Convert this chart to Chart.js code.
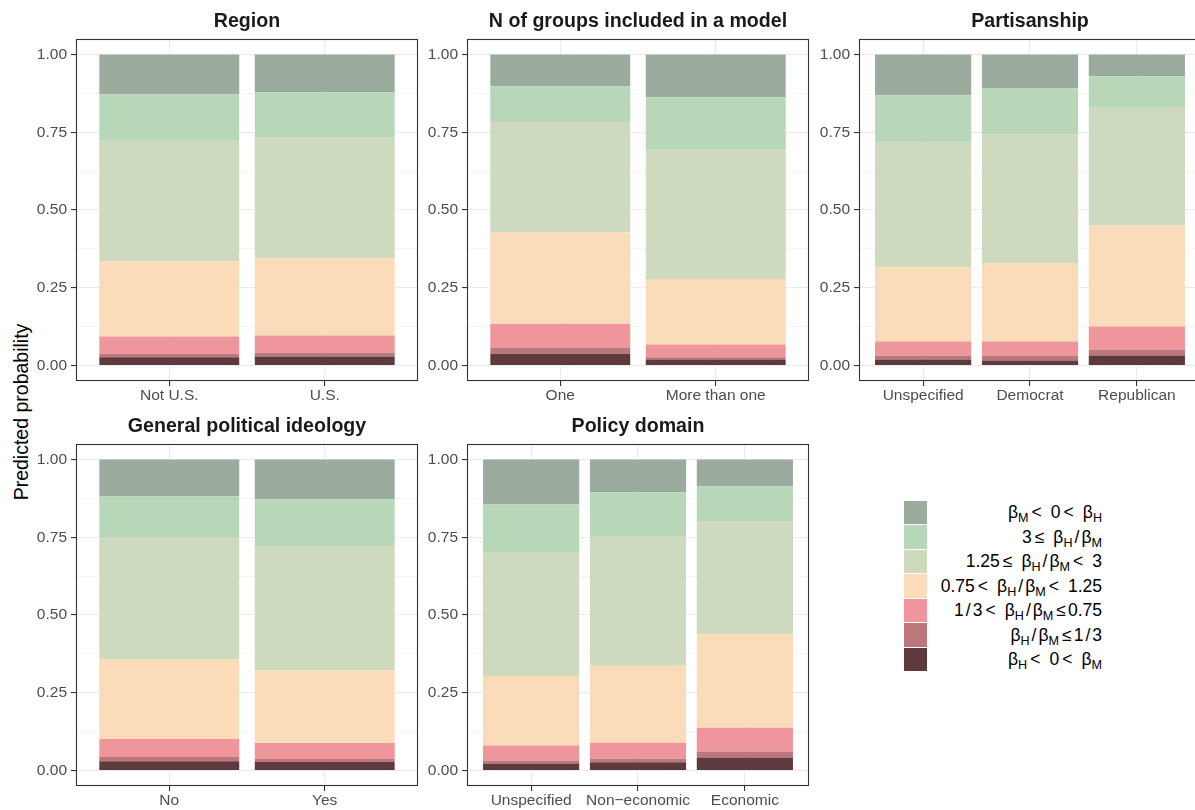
<!DOCTYPE html>
<html>
<head>
<meta charset="utf-8">
<script src="https://cdn.jsdelivr.net/npm/chart.js@4/dist/chart.umd.min.js"></script>
<style>
  html, body { margin: 0; padding: 0; background: #ffffff; }
  body { width: 1195px; height: 810px; position: relative; overflow: hidden;
         font-family: "Liberation Sans", Arial, Helvetica, sans-serif; }
  canvas.panel { position: absolute; }
  #ylab { position: absolute; left: 21px; top: 412px; transform: translate(-50%, -50%) rotate(-90deg);
          font-size: 19.5px; white-space: nowrap; color: #000; }
  #legend { position: absolute; left: 904px; top: 500px; }
  #legend .row { display: flex; align-items: center; height: 24.5px; }
  #legend .key { width: 23px; height: 23.5px; flex: none; }
  #legend .lab { width: 175px; text-align: right; font-size: 17.5px; color: #000; line-height: 24.5px; white-space: nowrap; }
  #legend sub { font-size: 0.72em; vertical-align: -0.3em; line-height: 0; }
  #legend .op { margin: 0 9px 0 3px; }
  #legend .le { margin: 0 2px 0 3px; }
  #legend .sl { margin: 0 2px; }
</style>
</head>
<body>
<div id="ylab">Predicted probability</div>
<div id="legend"></div>
<script>
// Outcome bands, stacked from the bottom of each bar upwards
const bH = 'β<sub>H</sub>', bM = 'β<sub>M</sub>';
const lt = '<span class="op">&lt;</span>', leWide = '<span class="op">≤</span>', le = '<span class="le">≤</span>';
const sl = '<span class="sl">/</span>';
const bandLabels = [
  bH + lt + '0' + lt + bM,
  bH + sl + bM + le + '1' + sl + '3',
  '1' + sl + '3' + lt + bH + sl + bM + le + '0.75',
  '0.75' + lt + bH + sl + bM + lt + '1.25',
  '1.25' + leWide + bH + sl + bM + lt + '3',
  '3' + leWide + bH + sl + bM,
  bM + lt + '0' + lt + bH
];
const bandColors = ['#5e3a3e', '#bd767b', '#ee969c', '#fadcbb', '#cedabd', '#b8d7b9', '#9bab9d'];

// y-axis tick labels (major breaks)
const yTickLabels = ['0.00', '0.25', '0.50', '0.75', '1.00'];

// Predicted probabilities per category, one value per band (bottom to top)
const regionCats = ['Not U.S.', 'U.S.'];
const regionProb = [
  [0.026, 0.012, 0.055, 0.242, 0.390, 0.147, 0.128],
  [0.029, 0.013, 0.054, 0.249, 0.390, 0.144, 0.121]
];

const groupsCats = ['One', 'More than one'];
const groupsProb = [
  [0.038, 0.020, 0.076, 0.294, 0.355, 0.115, 0.102],
  [0.019, 0.007, 0.041, 0.211, 0.418, 0.167, 0.137]
];

const partisanCats = ['Unspecified', 'Democrat', 'Republican'];
const partisanProb = [
  [0.019, 0.013, 0.045, 0.239, 0.400, 0.153, 0.131],
  [0.016, 0.016, 0.045, 0.252, 0.415, 0.147, 0.109],
  [0.032, 0.019, 0.074, 0.325, 0.381, 0.099, 0.070]
];

const ideologyCats = ['No', 'Yes'];
const ideologyProb = [
  [0.030, 0.013, 0.058, 0.256, 0.390, 0.135, 0.118],
  [0.027, 0.010, 0.051, 0.234, 0.400, 0.150, 0.128]
];

const domainCats = ['Unspecified', 'Non\u2212economic', 'Economic'];
const domainProb = [
  [0.022, 0.010, 0.048, 0.224, 0.396, 0.156, 0.144],
  [0.026, 0.012, 0.051, 0.250, 0.415, 0.141, 0.105],
  [0.042, 0.019, 0.076, 0.301, 0.364, 0.112, 0.086]
];

// Facet layout: plot-area origin of each panel
const AXIS_W = 70, PLOT_W = 342, PLOT_H = 342, TITLE_H = 39, XAXIS_H = 30, PAD_R = 4;
const facets = [
  { title: 'Region', cats: regionCats, prob: regionProb, left: 76, top: 39 },
  { title: 'N of groups included in a model', cats: groupsCats, prob: groupsProb, left: 467, top: 39 },
  { title: 'Partisanship', cats: partisanCats, prob: partisanProb, left: 859, top: 39 },
  { title: 'General political ideology', cats: ideologyCats, prob: ideologyProb, left: 76, top: 444 },
  { title: 'Policy domain', cats: domainCats, prob: domainProb, left: 467, top: 444 }
];

const FONT = '"Liberation Sans", Arial, Helvetica, sans-serif';
Chart.defaults.font.family = FONT;

// Strip title above the panel and the dark panel border
const panelDecor = {
  id: 'panelDecor',
  afterDraw(chart, args, opts) {
    const { ctx, chartArea: a } = chart;
    ctx.save();
    ctx.strokeStyle = '#333333';
    ctx.lineWidth = 1.1;
    ctx.strokeRect(Math.round(a.left) + 0.5, Math.round(a.top) + 0.5,
                   Math.round(a.right - a.left) - 1, Math.round(a.bottom - a.top) - 1);
    ctx.fillStyle = '#1a1a1a';
    ctx.font = 'bold 19.6px ' + FONT;
    ctx.textAlign = 'center';
    ctx.textBaseline = 'middle';
    ctx.fillText(opts.text, (a.left + a.right) / 2, a.top - 17);
    ctx.restore();
  }
};

const isMinor = v => Math.abs(v * 4 - Math.round(v * 4)) > 1e-6;

function drawFacet(f) {
  const cv = document.createElement('canvas');
  cv.className = 'panel';
  cv.width = AXIS_W + PLOT_W + PAD_R;
  cv.height = TITLE_H + PLOT_H + XAXIS_H;
  cv.style.left = (f.left - AXIS_W) + 'px';
  cv.style.top = (f.top - TITLE_H) + 'px';
  document.body.appendChild(cv);

  const datasets = bandLabels.map((lab, b) => ({
    label: lab,
    data: f.cats.map((c, i) => ({ x: i + 1, y: f.prob[i][b] })),
    backgroundColor: bandColors[b],
    borderWidth: 0,
    barPercentage: 0.9,
    categoryPercentage: 1.0
  }));

  new Chart(cv, {
    type: 'bar',
    data: { datasets },
    plugins: [panelDecor],
    options: {
      responsive: false,
      animation: false,
      devicePixelRatio: 1,
      layout: { padding: { top: TITLE_H, right: PAD_R, bottom: 0, left: 0 } },
      plugins: {
        legend: { display: false },
        tooltip: { enabled: false },
        panelDecor: { text: f.title }
      },
      scales: {
        x: {
          type: 'linear',
          stacked: true,
          offset: false,
          min: 0.4,
          max: f.cats.length + 0.6,
          afterBuildTicks: s => { s.ticks = f.cats.map((c, i) => ({ value: i + 1 })); },
          afterFit: s => { s.height = XAXIS_H; },
          border: { display: false },
          grid: { offset: false, color: '#ebebeb', lineWidth: 1.1, tickColor: '#333333', tickLength: 5, tickWidth: 1.1 },
          ticks: {
            autoSkip: false, maxRotation: 0, padding: 0,
            color: '#4d4d4d', font: { size: 15.5 },
            callback: v => f.cats[Math.round(v) - 1]
          }
        },
        y: {
          stacked: true,
          min: -0.05,
          max: 1.05,
          afterBuildTicks: s => {
            const t = [];
            for (let k = 0; k <= 8; k++) t.push({ value: k / 8 });
            s.ticks = t;
          },
          afterFit: s => { s.width = AXIS_W; },
          border: { display: false },
          grid: {
            color: c => isMinor(c.tick.value) ? '#f3f3f3' : '#ebebeb',
            lineWidth: c => isMinor(c.tick.value) ? 0.8 : 1.1,
            tickColor: c => isMinor(c.tick.value) ? 'rgba(0,0,0,0)' : '#333333',
            tickLength: 5,
            tickWidth: 1.1
          },
          ticks: {
            autoSkip: false, padding: 4,
            color: '#4d4d4d', font: { size: 15.5 },
            callback: v => isMinor(v) ? '' : yTickLabels[Math.round(v * 4)]
          }
        }
      }
    }
  });
}

facets.forEach(drawFacet);

// Legend, top band first
const legend = document.getElementById('legend');
for (let b = bandLabels.length - 1; b >= 0; b--) {
  const row = document.createElement('div');
  row.className = 'row';
  row.innerHTML = '<div class="key" style="background:' + bandColors[b] + '"></div>' +
                  '<div class="lab">' + bandLabels[b] + '</div>';
  legend.appendChild(row);
}
</script>
</body>
</html>
